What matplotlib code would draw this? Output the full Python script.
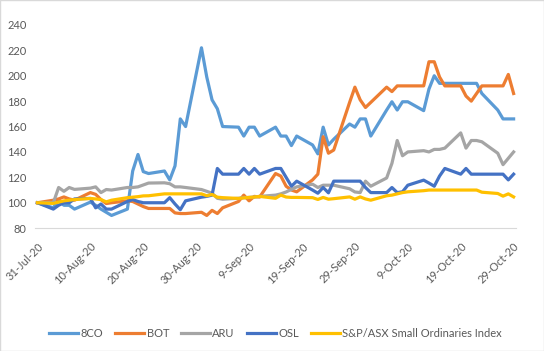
import numpy as np
import pandas as pd
import matplotlib
matplotlib.use("Agg")
import matplotlib.pyplot as plt
from matplotlib.patches import Rectangle

# trading days 31-Jul-20 .. 29-Oct-20
dates = pd.bdate_range("2020-07-31", "2020-10-29")

co8 = [100, 96, 102, 98, 98, 95, 100.5, 98, 95, 92.5, 90, 95, 125, 138, 124.5, 123,
       125, 118, 129, 166, 160, 222, 199, 181, 174, 160, 159.5, 152.5, 159.5, 159.5,
       152.5, 159.5, 152.5, 152.5, 145, 152.5, 145.5, 138.5, 159.5, 145.5, 150, 162,
       159.5, 166, 166, 152.5, 173, 179.5, 173, 179.5, 179.5, 172.5, 189.5, 200, 194,
       194, 194, 194, 194, 194, 186, 173, 166, 166, 166]
bot = [100, 102, 103, 104.6, 103, 102, 108, 106.6, 102.5, 99.4, 100, 101.5, 101, 99,
       97, 95.5, 95.5, 95.5, 92, 91.5, 91.5, 92.5, 90, 94, 91.5, 96, 101, 106, 101.5,
       105, 104.5, 123, 121, 113, 110, 108.6, 118, 122.5, 152, 139, 141.5, 179, 191,
       181, 175, 179, 191, 187.5, 192, 192, 192, 192, 211, 211, 199, 192, 192, 184,
       180, 186, 192, 192, 192, 201, 186]
aru = [100, 100, 112, 109, 112, 110.5, 111.5, 112.5, 108, 110.4, 110, 112, 112, 112.5,
       114, 115.5, 115.7, 115, 112.5, 112.5, 112, 110.4, 109, 107.5, 103.5, 102.8,
       103.5, 104, 104.2, 104.5, 105, 106, 107, 108.5, 110.5, 112.5, 114.6, 112, 113.8,
       113.8, 113.8, 111, 108.5, 108, 117, 113, 119.5, 131, 149, 137, 140, 141, 140,
       142, 142, 143, 155, 143, 149, 149, 148, 139, 130, 135, 140]
osl = [100, 95, 98, 100, 100, 103, 103.4, 96, 99, 95, 95, 101, 102.5, 101, 100, 100,
       100, 104, 99, 94.5, 101.5, 104.4, 105, 106, 127, 122.5, 122.5, 127, 122.5, 127,
       122.5, 127, 127, 120, 113, 117, 110, 107.5, 112, 107.8, 117, 117, 117, 117, 112,
       108, 108, 112, 108, 108.6, 113.8, 117.8, 115.5, 113, 121, 127, 122.5, 127, 122.5,
       122.5, 122.5, 122.5, 122.5, 118, 122.5]
sp = [100, 99.5, 100.5, 101.5, 102, 102.5, 103.4, 103, 102.5, 100.7, 102, 104, 104.4,
      104.8, 105.4, 105.5, 107, 107, 107, 107, 107, 107, 105.5, 106.5, 104.4, 104,
      103.4, 103.8, 104.2, 104.5, 105, 103.5, 106, 104.5, 104.2, 104.2, 104, 102.6,
      104.2, 102.8, 103.2, 104.6, 102.8, 104.6, 103, 102, 105.5, 106, 107, 108, 108.6,
      109.5, 110, 110, 110, 110, 110, 110, 110, 110, 108.3, 107.3, 105.2, 107, 104.6]

series = [("8CO", co8, "#5B9BD5"), ("BOT", bot, "#ED7D31"), ("ARU", aru, "#A5A5A5"),
          ("OSL", osl, "#4472C4"), ("S&P/ASX Small Ordinaries Index", sp, "#FFC000")]

plt.rcParams["font.family"] = ["Lato", "DejaVu Sans"]

fig = plt.figure(figsize=(5.44, 3.51), dpi=100)
ax = fig.add_axes([0.064, 0.350, 0.885, 0.579])

for name, vals, col in series:
    ax.plot(dates, vals, color=col, lw=2.3, label=name, solid_joinstyle="round")

ax.set_ylim(80, 240)
ax.set_yticks(np.arange(80, 241, 20))
start = pd.Timestamp("2020-07-31")
ax.set_xlim(start - pd.Timedelta(hours=12), pd.Timestamp("2020-10-29") + pd.Timedelta(hours=12))
ticks = pd.date_range(start, periods=10, freq="10D")
ax.set_xticks(ticks)
ax.set_xticklabels([f"{t.day}-{t.strftime('%b-%y')}" for t in ticks],
                   rotation=45, ha="right", rotation_mode="anchor")

for s in ["top", "right", "left"]:
    ax.spines[s].set_visible(False)
ax.spines["bottom"].set_color("#D9D9D9")
ax.tick_params(axis="both", length=0, labelsize=8, colors="#595959")
ax.tick_params(axis="x", pad=9)
ax.tick_params(axis="y", pad=6)

ax.legend(loc="upper center", bbox_to_anchor=(0.5, -0.44), ncol=5, frameon=False,
          fontsize=8, labelcolor="#595959", handlelength=2.6, columnspacing=1.1,
          handletextpad=0.2)

fig.patches.append(Rectangle((0, 0), 1, 1, transform=fig.transFigure, fill=False,
                             edgecolor="#D9D9D9", lw=1))

fig.savefig("out.png", dpi=100)
